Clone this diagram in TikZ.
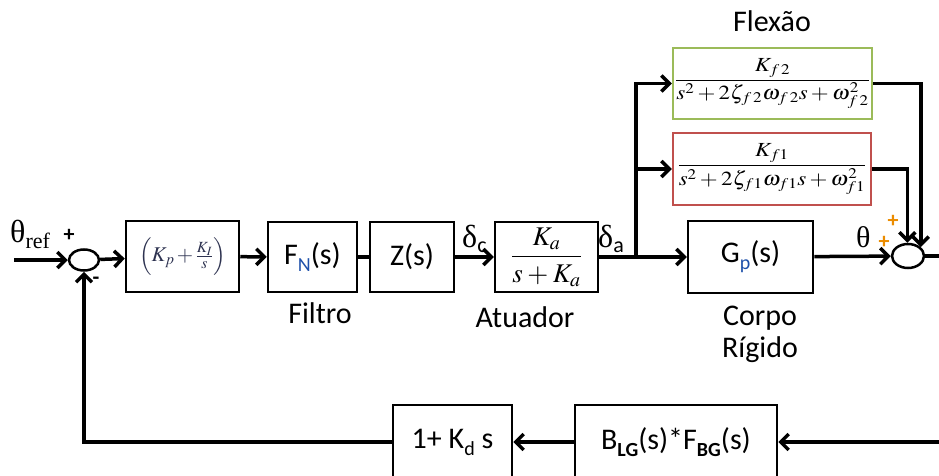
\documentclass[tikz,border=0pt]{standalone}
\usepackage{mathptmx}
\usepackage{graphicx}
\usepackage{fontspec}
\setmainfont{Carlito}
\newfontfamily\grk{Liberation Serif}
\usetikzlibrary{arrows.meta,shapes.geometric}
\definecolor{fgreen}{RGB}{155,187,89}
\definecolor{fred}{RGB}{192,80,77}
\definecolor{subblue}{RGB}{30,80,170}
\definecolor{plusor}{RGB}{235,140,0}
\definecolor{pitext}{RGB}{45,50,80}
\newcommand\lsub[1]{\raisebox{-7pt}{\fontsize{20}{20}\selectfont #1}}
\begin{document}
\begin{tikzpicture}[x=1pt,y=-1pt,
  blk/.style={draw,line width=2.5pt,inner sep=0pt,font=\fontsize{30}{34}\selectfont},
  sumc/.style={draw,ellipse,line width=2.5pt,inner sep=0pt},
  sig/.style={line width=3.5pt},
  arr/.style={sig,-{Straight Barb[length=8pt,width=16pt]}},
  lbl/.style={font=\fontsize{30}{34}\selectfont,inner sep=0pt,anchor=base},
  pl/.style={font=\fontsize{22}{22}\selectfont\bfseries,inner sep=0pt},
]
\path[use as bounding box,clip] (0,0) rectangle (939,476);

% blocks
\node[blk,minimum width=113pt,minimum height=71pt] (pi) at (182.5,256.5)
  {\fontsize{21}{24}\selectfont\color{pitext}$\left(K_p\,{+}\,\frac{K_I}{s}\right)$};
\node[blk,minimum width=89pt,minimum height=70pt] (fn) at (312.5,257)
  {F\lsub{\color{subblue}N}(s)};
\node[blk,minimum width=84pt,minimum height=70pt] (z) at (412,257) {Z(s)};
\node[blk,minimum width=103pt,minimum height=70pt] (act) at (546.5,257)
  {\fontsize{27}{31}\selectfont$\displaystyle\frac{K_a}{s\mkern3mu{+}\mkern3mu K_a}$};
\node[blk,minimum width=125pt,minimum height=72pt] (gp) at (750.5,257)
  {G\lsub{\color{subblue}p}(s)};
\node[blk,draw=fgreen,minimum width=199pt,minimum height=71pt] (f2) at (772.5,83.5)
  {\scalebox{1.15}[1]{\fontsize{20}{23}\selectfont$\displaystyle\frac{K_{f\,2}}{s^2+2\zeta_{f\,2}\omega_{f\,2}s+\omega_{f\,2}^2}$}};
\node[blk,draw=fred,minimum width=198pt,minimum height=72pt] (f1) at (772,169)
  {\scalebox{1.15}[1]{\fontsize{20}{23}\selectfont$\displaystyle\frac{K_{f1}}{s^2+2\zeta_{f1}\omega_{f1}s+\omega_{f1}^2}$}};
\node[blk,minimum width=119pt,minimum height=74pt] (kd) at (452.5,442)
  {1+ K\lsub{d} s};
\node[blk,minimum width=202pt,minimum height=74pt] (blg) at (676,442)
  {B\lsub{\bfseries LG}(s)*F\lsub{\bfseries BG}(s)};

% summing junctions
\node[sumc,minimum width=30pt,minimum height=21pt] (s1) at (84,260) {};
\node[sumc,minimum width=32pt,minimum height=24pt] (s2) at (908,256) {};

% coordinates
\coordinate (in) at (14,260);
\coordinate (br) at (636,257);
\coordinate (out) at (945,256);
\coordinate (fb) at (945,442);

% connectors
\draw[arr] (in) -- (s1);
\draw[arr] (s1) -- (pi);
\draw[arr] (pi) -- (fn);
\draw[sig] (fn) -- (z);
\draw[arr] (z) -- (act);
\draw[sig] (act) -- (br);
\draw[arr] (br) -- (gp);
\draw[arr] (br) |- (f2.west);
\draw[arr] (br) |- (f1.west);
\draw[arr] (gp) -- (s2);
\draw[arr] (f2.east) -| (s2.35);
\draw[arr] (f1.east) -| (s2.93);
\draw[sig] (s2) -- (out);
\draw[arr] (fb) -- (blg);
\draw[arr] (blg) -- (kd);
\draw[arr] (kd) -| (s1);

% labels
\node[anchor=base west,inner sep=0pt] (tref) at (10,242)
  {\grk\fontsize{32}{32}\selectfont θ\raisebox{-6pt}{\fontsize{22}{22}\selectfont ref}};
\node[pl] (p1) at (69,235) {+};
\node[pl] (m1) at (96,281) {-};
\node[anchor=base west,inner sep=0pt] (dc) at (462,247)
  {\grk\fontsize{32}{32}\selectfont δ\raisebox{-5pt}{\rmfamily\fontsize{22}{22}\selectfont c}};
\node[anchor=base west,inner sep=0pt] (da) at (598,247)
  {\grk\fontsize{32}{32}\selectfont δ\raisebox{-5pt}{\rmfamily\fontsize{22}{22}\selectfont a}};
\node[anchor=base west,inner sep=0pt] (th) at (856,247)
  {\grk\fontsize{30}{30}\selectfont θ};
\node[pl,text=plusor] (p2) at (893,221) {+};
\node[pl,text=plusor] (p3) at (884,242) {+};
\node[lbl] (filtro) at (320,323) {Filtro};
\node[lbl] (atuador) at (525,327) {Atuador};
\node[lbl] (corpo) at (760,325) {Corpo};
\node[lbl] (rigido) at (760,357) {Rígido};
\node[lbl] (flexao) at (772,32) {Flexão};
\end{tikzpicture}
\end{document}
